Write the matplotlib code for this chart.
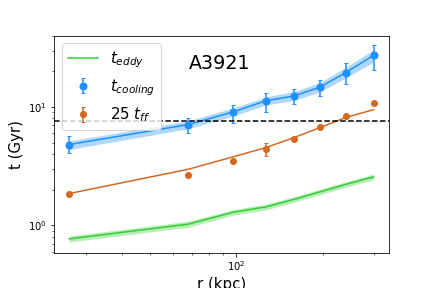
import matplotlib
matplotlib.use("Agg")
import matplotlib.pyplot as plt
import numpy as np

# radii of the annuli (kpc)
r = [26.2, 67.9, 97.1, 126.7, 158.5, 195.0, 239.6, 299.7]

# cooling time (Gyr) with asymmetric errors
t_cool = [4.82, 7.11, 9.07, 11.3, 12.4, 14.7, 19.5, 27.3]
t_cool_hi = [5.66, 8.15, 10.5, 13.2, 14.2, 17.0, 23.5, 33.6]
t_cool_lo = [4.05, 6.00, 7.38, 9.15, 10.6, 12.4, 15.5, 20.7]
t_cool_band_hi = [5.17, 7.65, 9.8, 12.2, 13.5, 16.1, 21.6, 30.4]
t_cool_band_lo = [4.38, 6.55, 8.35, 10.4, 11.4, 13.4, 17.6, 23.9]

# 25 x free-fall time (Gyr)
t_ff25 = [1.86, 2.66, 3.48, 4.46, 5.42, 6.78, 8.40, 10.9]
t_ff25_err_hi = [0.03, 0.03, 0.05, 0.55, 0.06, 0.08, 0.10, 0.12]
t_ff25_err_lo = [0.03, 0.03, 0.05, 0.62, 0.06, 0.08, 0.10, 0.12]
t_ff25_model = [1.86, 2.98, 3.79, 4.55, 5.52, 6.70, 8.15, 9.5]

# eddy turnover time (Gyr)
t_eddy = [0.77, 1.025, 1.29, 1.435, 1.66, 1.92, 2.22, 2.57]
t_eddy_hi = [0.815, 1.085, 1.36, 1.515, 1.75, 2.02, 2.34, 2.72]
t_eddy_lo = [0.725, 0.965, 1.22, 1.355, 1.57, 1.82, 2.10, 2.43]

t_threshold = 7.65

fig, ax = plt.subplots(figsize=(6, 4), dpi=72)
fig.subplots_adjust(left=0.125, right=0.9, bottom=0.123, top=0.876)

ax.plot(r, t_eddy, color="limegreen", lw=1.5, label=r"$t_{eddy}$")
ax.fill_between(r, t_eddy_lo, t_eddy_hi, color="limegreen", alpha=0.35, lw=0)

ax.plot(r, t_cool, color="dodgerblue", lw=1.5)
ax.fill_between(r, t_cool_band_lo, t_cool_band_hi, color="dodgerblue", alpha=0.35, lw=0)
yerr_c = [np.array(t_cool) - np.array(t_cool_lo), np.array(t_cool_hi) - np.array(t_cool)]
ax.errorbar(r, t_cool, yerr=yerr_c, fmt="o", color="dodgerblue", ms=7,
            capsize=2, elinewidth=1.5, label=r"$t_{cooling}$")

ax.plot(r, t_ff25_model, color="chocolate", lw=1.5)
ax.errorbar(r, t_ff25, yerr=[t_ff25_err_lo, t_ff25_err_hi], fmt="o", color="chocolate",
            ms=6, capsize=2, elinewidth=1.5, label=r"25 $t_{ff}$")

ax.axhline(t_threshold, color="k", ls="--", lw=1.5)

ax.set_xscale("log")
ax.set_yscale("log")
ax.set_ylim(0.59, 40)
ax.set_xlabel("r (kpc)", fontsize=15)
ax.set_ylabel("t (Gyr)", fontsize=15)
ax.text(0.495, 0.874, "A3921", transform=ax.transAxes, fontsize=19,
        ha="center", va="center")
ax.legend(loc="upper left", fontsize=15)

fig.savefig("out.png", dpi=72)
